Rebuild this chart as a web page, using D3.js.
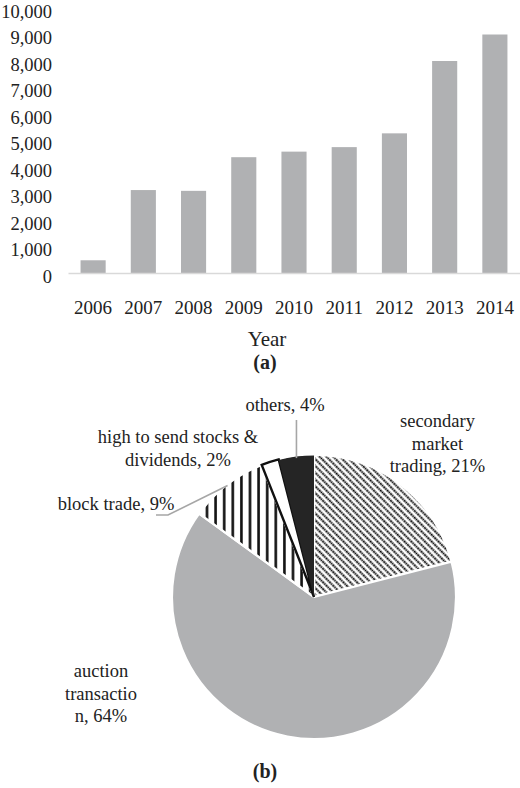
<!DOCTYPE html>
<html>
<head>
<meta charset="utf-8">
<script src="https://cdn.jsdelivr.net/npm/d3@7/dist/d3.min.js"></script>
<style>
  html, body { margin: 0; padding: 0; background: #fff; }
  svg { display: block; }
  text { font-family: "Liberation Serif", "Times New Roman", serif; fill: #222; }
</style>
</head>
<body>
<svg id="chart" width="520" height="788"></svg>
<script>
// ---- data ----
const years = ["2006", "2007", "2008", "2009", "2010", "2011", "2012", "2013", "2014"];
const counts = [480, 3130, 3100, 4370, 4580, 4750, 5270, 8000, 9000];
const yTicks = [0, 1000, 2000, 3000, 4000, 5000, 6000, 7000, 8000, 9000, 10000];
const xTitle = "Year";

const pieCategories = ["secondary market trading", "auction transaction", "block trade", "high to send stocks & dividends", "others"];
const pieShares = [21, 64, 9, 2, 4];
const pieLabelLines = [
  ["secondary", "market", "trading, 21%"],
  ["auction", "transactio", "n, 64%"],
  ["block trade, 9%"],
  ["high to send stocks &", "dividends, 2%"],
  ["others, 4%"]
];

// ---- drawing ----
const svg = d3.select("#chart");
const barColor = "#b0b1b3";

// Bar chart (a)
const x = d3.scaleBand().domain(years).range([68, 520]).paddingInner(0.5).paddingOuter(0.25);
const y = d3.scaleLinear().domain([0, 10000]).range([273, 8]);

svg.append("g").selectAll("rect").data(years).join("rect")
  .attr("x", d => x(d))
  .attr("width", x.bandwidth())
  .attr("y", (d, i) => y(counts[i]))
  .attr("height", (d, i) => y(0) - y(counts[i]))
  .attr("fill", barColor);

const yAxis = svg.append("g").attr("transform", "translate(68,0)")
  .call(d3.axisLeft(y).tickValues(yTicks).tickSize(0).tickPadding(16).tickFormat(d3.format(",")));
yAxis.select(".domain").remove();
yAxis.selectAll("text").attr("dy", null).attr("y", 9)
  .style("font-size", "18.5px").style("font-family", "Liberation Serif, serif").attr("fill", "#222");

const xAxis = svg.append("g").attr("transform", "translate(0,273)")
  .call(d3.axisBottom(x).tickSize(0).tickSizeOuter(0));
xAxis.select(".domain").attr("stroke", "#d9d9d9").attr("stroke-width", 1.6);
xAxis.selectAll("text").attr("dy", null).attr("y", 41)
  .style("font-size", "19px").style("font-family", "Liberation Serif, serif").attr("fill", "#222");

svg.append("text").attr("x", 267).attr("y", 346).attr("text-anchor", "middle")
  .style("font-size", "21px").text(xTitle);
svg.append("text").attr("x", 265).attr("y", 369).attr("text-anchor", "middle")
  .style("font-size", "20px").style("font-weight", "bold").text("(a)");

// Pie chart (b)
const defs = svg.append("defs");
const vp = defs.append("pattern").attr("id", "vstripe").attr("patternUnits", "userSpaceOnUse")
  .attr("width", 8.6).attr("height", 10).attr("x", 0.5);
vp.append("rect").attr("width", 8.6).attr("height", 10).attr("fill", "#fff");
vp.append("rect").attr("x", 3).attr("width", 2.6).attr("height", 10).attr("fill", "#111");

const dp = defs.append("pattern").attr("id", "diag").attr("patternUnits", "userSpaceOnUse")
  .attr("width", 4.8).attr("height", 4.8).attr("patternTransform", "rotate(45)");
dp.append("rect").attr("width", 4.8).attr("height", 4.8).attr("fill", "#fff");
dp.append("line").attr("x1", 0).attr("x2", 4.8).attr("y1", 2.4).attr("y2", 2.4)
  .attr("stroke", "#000").attr("stroke-width", 1.7).attr("stroke-dasharray", "1.8 0.6");

const fills = ["url(#diag)", barColor, "url(#vstripe)", "#fff", "#252525"];
const cx = 314, cy = 597, R = 142;
const pie = d3.pie().sort(null).value(d => d)(pieShares);
const arc = d3.arc().innerRadius(0).outerRadius(R);

const pg = svg.append("g").attr("transform", `translate(${cx},${cy})`);
pg.selectAll("path.slice").data(pie).join("path").attr("class", "slice")
  .attr("d", arc)
  .attr("fill", (d, i) => fills[i])
  .attr("stroke", "#fff").attr("stroke-width", 2.2).attr("stroke-linejoin", "round");
// outline the white slice
pg.append("path").datum(pie[3]).attr("d", arc)
  .attr("fill", "none").attr("stroke", "#111").attr("stroke-width", 2.4).attr("stroke-linejoin", "miter");
pg.append("path").datum(pie[4]).attr("d", d3.arc().innerRadius(0).outerRadius(R - 0.5))
  .attr("fill", "#252525");

// leader lines
const outerPt = (d, r) => {
  const a = (d.startAngle + d.endAngle) / 2;
  return [cx + r * Math.sin(a), cy - r * Math.cos(a)];
};
const leader = svg.append("g").attr("fill", "none").attr("stroke", "#a6a6a6").attr("stroke-width", 1.6);
const pO = outerPt(pie[4], R - 2);
leader.append("path").attr("d", d3.line()([[pO[0], 420], pO]));
const pB = outerPt(pie[2], R - 1);
leader.append("path").attr("d", d3.line()([pB, [168, 515], [156, 515]]));

// labels
const labelLayout = [
  { x: 437.5, y: 427 },
  { x: 101, y: 677 },
  { x: 116, y: 510 },
  { x: 178, y: 443 },
  { x: 285, y: 411 }
];
const lh = 22.5;
pieLabelLines.forEach((lines, i) => {
  const t = svg.append("text").attr("text-anchor", "middle").style("font-size", "18.5px");
  lines.forEach((ln, j) => {
    t.append("tspan").attr("x", labelLayout[i].x).attr("y", labelLayout[i].y + j * lh).text(ln);
  });
});

svg.append("text").attr("x", 265).attr("y", 778).attr("text-anchor", "middle")
  .style("font-size", "20px").style("font-weight", "bold").text("(b)");
</script>
</body>
</html>
